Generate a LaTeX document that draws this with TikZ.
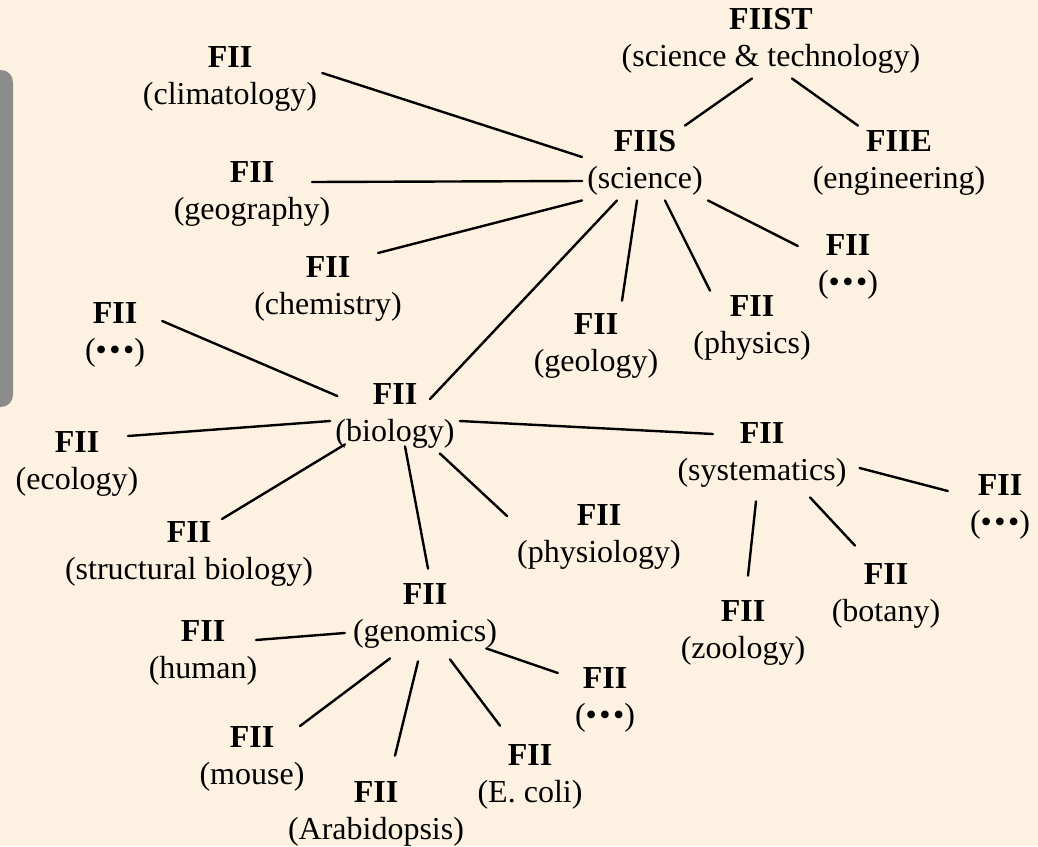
\documentclass[tikz,border=0pt]{standalone}
\usepackage{fontspec}
\setmainfont{Liberation Serif}
\usepackage{tikz}
\usetikzlibrary{positioning}

\definecolor{bgcream}{RGB}{253,242,226}
\definecolor{sidegrey}{RGB}{140,140,140}

\tikzset{
  fii/.style={align=center, inner sep=5pt,
    font=\fontsize{32}{36.5}\selectfont},
  link/.style={line width=2.4pt, line cap=round}
}
\newcommand{\etcdots}{(•\kern2.5pt•\kern2.5pt•)}

\begin{document}
\begin{tikzpicture}[x=1pt,y=-1pt]
\useasboundingbox (0,0) rectangle (1038,846);
\fill[bgcream] (0,0) rectangle (1038,846);
\fill[sidegrey, rounded corners=12pt] (-30,70) rectangle (13,407);

% top levels
\node[fii] (fiist) at (771,41) {\textbf{FIIST}\\(science \& technology)};
\node[fii] (sci)   at (645,163) {\textbf{FIIS}\\(science)};
\node[fii] (eng)   at (899,163) {\textbf{FIIE}\\(engineering)};

% science branches
\node[fii] (clim)  at (230,79)  {\textbf{FII}\\(climatology)};
\node[fii] (geog)  at (252,194) {\textbf{FII}\\(geography)};
\node[fii] (chem)  at (328,289) {\textbf{FII}\\(chemistry)};
\node[fii] (geol)  at (596,346) {\textbf{FII}\\(geology)};
\node[fii] (phys)  at (752,328) {\textbf{FII}\\(physics)};
\node[fii] (sdots) at (848,267) {\textbf{FII}\\\etcdots};
\node[fii] (bio)   at (395,416) {\textbf{FII}\\(biology)};

% biology branches
\node[fii] (bdots) at (115,335) {\textbf{FII}\\\etcdots};
\node[fii] (ecol)  at (77,464)  {\textbf{FII}\\(ecology)};
\node[fii] (struc) at (189,554) {\textbf{FII}\\(structural biology)};
\node[fii] (physio) at (599,537) {\textbf{FII}\\(physiology)};
\node[fii] (syst)  at (762,455) {\textbf{FII}\\(systematics)};
\node[fii] (geno)  at (425,616) {\textbf{FII}\\(genomics)};

% systematics branches
\node[fii] (ydots) at (1000,507) {\textbf{FII}\\\etcdots};
\node[fii] (zool)  at (743,633) {\textbf{FII}\\(zoology)};
\node[fii] (bota)  at (886,596) {\textbf{FII}\\(botany)};

% genomics branches
\node[fii] (huma)  at (203,653) {\textbf{FII}\\(human)};
\node[fii] (mous)  at (252,759) {\textbf{FII}\\(mouse)};
\node[fii] (arab)  at (376,814) {\textbf{FII}\\(Arabidopsis)};
\node[fii] (ecoli) at (530,777) {\textbf{FII}\\(E. coli)};
\node[fii] (gdots) at (605,700) {\textbf{FII}\\\etcdots};

% links
\draw[link] ([xshift=-19pt]fiist.south) -- ([xshift=40pt]sci.north);
\draw[link] ([xshift=21pt]fiist.south) -- ([xshift=-41pt]eng.north);
\draw[link] ([yshift=6pt]clim.east) -- ([yshift=6pt]sci.west);
\draw[link] ([xshift=60pt,yshift=12pt]geog.center) -- ([yshift=-18pt]sci.west);
\draw[link] ([xshift=50pt,yshift=36pt]chem.center) -- (sci.south west);
\draw[link] ([xshift=35pt,yshift=17pt]bio.center) -- ([xshift=-28pt]sci.south);
\draw[link] ([xshift=26pt,yshift=8pt]geol.north) -- ([xshift=-8pt]sci.south);
\draw[link] ([xshift=-42pt]phys.north) -- ([xshift=20pt]sci.south);
\draw[link] ([xshift=-15pt,yshift=21pt]sdots.west) -- (sci.south east);

\draw[link] ([xshift=12pt,yshift=14pt]bdots.east) -- ([xshift=7pt,yshift=20pt]bio.west);
\draw[link] ([xshift=51pt,yshift=28pt]ecol.center) -- ([yshift=-5pt]bio.west);
\draw[link] ([xshift=33pt,yshift=35pt]struc.center) -- ([xshift=-50pt,yshift=9pt]bio.south);
\draw[link] ([xshift=3pt,yshift=10pt]geno.north) -- ([xshift=10pt,yshift=7pt]bio.south);
\draw[link] ([xshift=-5pt,yshift=21pt]physio.west) -- ([xshift=-20pt]bio.south east);
\draw[link] ([xshift=-49pt,yshift=21pt]syst.center) -- ([yshift=-5pt]bio.east);

\draw[link] ([xshift=8pt,yshift=-13pt]syst.east) -- ([xshift=-17pt,yshift=16pt]ydots.west);
\draw[link] ([xshift=-6pt,yshift=-9pt]syst.south) -- ([xshift=5pt,yshift=20pt]zool.north);
\draw[link] ([xshift=48pt,yshift=-5pt]syst.south) -- ([xshift=-31pt,yshift=13pt]bota.north);

\draw[link] ([xshift=53pt,yshift=13pt]huma.center) -- ([xshift=-3pt,yshift=-17pt]geno.west);
\draw[link] ([xshift=48pt,yshift=33pt]mous.center) -- ([xshift=-35pt,yshift=-5pt]geno.south);
\draw[link] ([xshift=19pt,yshift=21pt]arab.north) -- ([xshift=-7pt,yshift=-8pt]geno.south);
\draw[link] ([xshift=-30pt,yshift=14pt]ecoli.north) -- ([xshift=25pt,yshift=-6pt]geno.south);
\draw[link] ([xshift=-16pt,yshift=5pt]geno.south east) -- ([xshift=-12pt,yshift=27pt]gdots.west);
\end{tikzpicture}
\end{document}
